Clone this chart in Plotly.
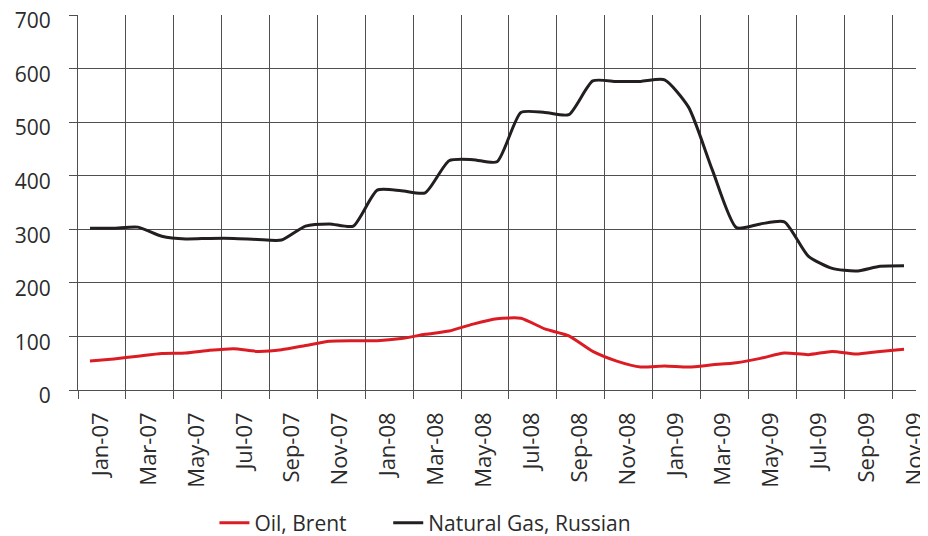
import plotly.graph_objects as go

months = ["Jan-07", "Feb-07", "Mar-07", "Apr-07", "May-07", "Jun-07", "Jul-07", "Aug-07",
          "Sep-07", "Oct-07", "Nov-07", "Dec-07", "Jan-08", "Feb-08", "Mar-08", "Apr-08",
          "May-08", "Jun-08", "Jul-08", "Aug-08", "Sep-08", "Oct-08", "Nov-08", "Dec-08",
          "Jan-09", "Feb-09", "Mar-09", "Apr-09", "May-09", "Jun-09", "Jul-09", "Aug-09",
          "Sep-09", "Oct-09", "Nov-09"]

oil_brent = [54, 58, 63, 68, 69, 74, 77, 72, 75, 83, 91, 92, 92, 96, 104, 110,
             123, 133, 134, 114, 101, 72, 54, 43, 45, 43, 47, 51, 59, 69, 66, 72,
             67, 72, 76]

gas_russian = [302, 302, 304, 287, 282, 283, 283, 281, 280, 306, 310, 306, 373, 372, 368, 428,
               430, 426, 518, 518, 514, 577, 576, 576, 579, 528, 410, 303, 310, 314, 250, 227,
               222, 231, 232]

y_ticks = [0, 100, 200, 300, 400, 500, 600, 700]

idx = list(range(len(months)))
label_pos = [i + 0.45 for i in idx[::2]]
label_text = months[::2]
grid_pos = [i - 0.5 for i in idx[::2]]

FONT = "Open Sans"
GRID = "#4f4f4f"
TXT = "#2b2b2b"

fig = go.Figure()
fig.add_trace(go.Scatter(x=idx, y=oil_brent, name="Oil, Brent", mode="lines", legend="legend",
                         line=dict(color="#dc1c24", width=3, shape="spline", smoothing=0.6)))
fig.add_trace(go.Scatter(x=idx, y=gas_russian, name="Natural Gas, Russian", mode="lines",
                         legend="legend2",
                         line=dict(color="#231f20", width=3, shape="spline", smoothing=0.6)))
# invisible helper trace on the label axis so it is rendered
fig.add_trace(go.Scatter(x=[idx[0]], y=[None], xaxis="x2", showlegend=False,
                         hoverinfo="skip", mode="lines"))

legend_font = dict(size=21, family=FONT, color=TXT)

# page body has an 8px margin, so the figure is sized to the visible area
fig.update_layout(
    width=920, height=528,
    margin=dict(l=70, r=12, t=7, b=146, autoexpand=False),
    paper_bgcolor="white", plot_bgcolor="white",
    font=dict(family=FONT, color=TXT),
    showlegend=True,
    legend=dict(orientation="h", x=0.1628, xanchor="left", y=-0.30, yanchor="top",
                font=legend_font, itemwidth=30),
    legend2=dict(orientation="h", x=0.3702, xanchor="left", y=-0.30, yanchor="top",
                 font=legend_font, itemwidth=30),
    xaxis=dict(range=[-0.5, 34.5], tickmode="array", tickvals=grid_pos, showticklabels=False,
               ticks="outside", ticklen=8, tickcolor=GRID, tickwidth=1,
               showgrid=True, gridcolor=GRID, gridwidth=1, zeroline=False,
               showline=True, linecolor=GRID, linewidth=1, automargin=False),
    xaxis2=dict(range=[-0.5, 34.5], overlaying="x", anchor="y", side="bottom",
                tickmode="array", tickvals=label_pos, ticktext=label_text,
                tickangle=-90, ticks="", showgrid=False, zeroline=False, showline=False,
                tickfont=dict(size=22, family=FONT, color=TXT),
                ticklabelstandoff=17, ticklabeloverflow="allow", automargin=False),
    yaxis=dict(range=[0, 700], tickmode="array", tickvals=y_ticks,
               ticks="outside", ticklen=8, tickcolor=GRID, tickwidth=1,
               showgrid=True, gridcolor=GRID, gridwidth=1, zeroline=False,
               showline=True, linecolor=GRID, linewidth=1,
               tickfont=dict(size=21, family=FONT, color=TXT),
               ticklabelstandoff=14, ticklabelshift=6,
               ticklabeloverflow="allow", automargin=False),
)

fig.write_html("out.html")
